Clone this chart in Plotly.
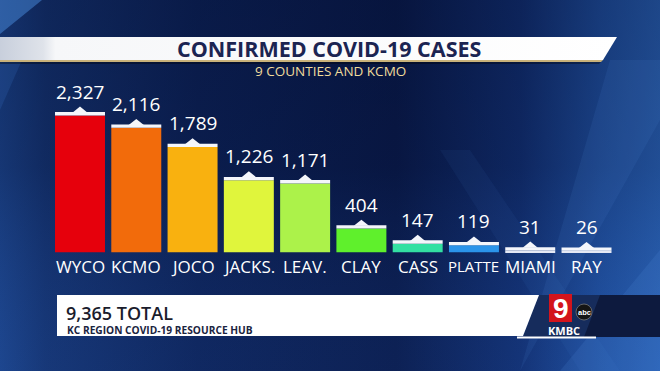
import plotly.graph_objects as go

# ---------------- data ----------------
categories = ["WYCO", "KCMO", "JOCO", "JACKS.", "LEAV.", "CLAY", "CASS", "PLATTE", "MIAMI", "RAY"]
cases = [2327, 2116, 1789, 1226, 1171, 404, 147, 119, 31, 26]
bar_colors = ["#e6000c", "#f26b0b", "#f9b10f", "#e0f53c", "#acf24a",
              "#5ff02c", "#33e0a2", "#2b94ea", "#e4e8f4", "#e4e8f4"]
title_text = "CONFIRMED COVID-19 CASES"
subtitle_text = "9 COUNTIES AND KCMO"
total_text = "9,365 TOTAL"
source_text = "KC REGION COVID-19 RESOURCE HUB"
station_text = "KMBC"

W, H = 660, 371
FONT = "Open Sans"

fig = go.Figure()


def poly(xs, ys, color=None, grad=None):
    fig.add_trace(go.Scatter(
        x=list(xs) + [xs[0]], y=list(ys) + [ys[0]], mode="lines",
        line=dict(width=0, color="rgba(0,0,0,0)"), fill="toself",
        fillcolor=color, fillgradient=grad, hoverinfo="skip",
        showlegend=False, xaxis="x", yaxis="y"))


# ---------------- background (pixel coordinates on base axes) ----------------
poly([0, W, W, 0], [0, 0, H, H], grad=dict(
    type="horizontal", start=0, stop=W,
    colorscale=[[0, "rgb(28,68,140)"], [0.07, "rgb(21,52,115)"], [0.3, "rgb(13,35,90)"],
                [0.6, "rgb(10,27,76)"], [0.79, "rgb(18,48,115)"], [0.91, "rgb(32,80,160)"],
                [1, "rgb(42,98,182)"]]))
poly([0, W, W, 0], [0, 0, H, H], grad=dict(
    type="vertical", start=0, stop=H,
    colorscale=[[0, "rgba(0,6,30,0.30)"], [0.45, "rgba(0,6,30,0.22)"],
                [1, "rgba(40,90,170,0.10)"]]))
# diagonal light streaks
poly([0, 42, 0], [0, 0, 34], color="rgba(80,150,235,0.45)")
poly([0, 22, 0], [60, 60, 110], color="rgba(60,120,210,0.18)")
poly([440, 470, 620, 580], [150, 150, H, H], color="rgba(90,150,230,0.06)")
poly([610, W, W, 520], [60, 60, 120, H], color="rgba(90,150,230,0.10)")
poly([560, W, W, 640], [H, 250, H, H], color="rgba(90,150,230,0.15)")

# ---------------- title banner ----------------
poly([0, 617, 603, 0], [37, 37, 60, 60], grad=dict(
    type="horizontal", start=0, stop=617,
    colorscale=[[0, "#c8cfdc"], [0.07, "#dfe3ea"], [0.09, "#f6f7f9"], [1, "#ffffff"]]))
poly([0, 603, 601, 0], [60, 60, 62, 62], color="#c9b27a")
poly([0, 601, 599, 0], [62, 62, 64, 64], color="rgba(0,0,0,0.35)")

# ---------------- bottom banner ----------------
poly([523, W, W, 523 + 16], [337, 337, 295, 295], color="#0d1a3e")
poly([539, 600, 584, 523], [295, 295, 337, 337], color="rgba(40,80,150,0.35)")
poly([57, 539, 523, 57], [295, 295, 336, 336], color="#ffffff")
poly([517, 596, 596, 517], [336.5, 336.5, 338.5, 338.5], color="#ffffff")
# logo
poly([549, 572, 572, 549], [294, 294, 322, 322], color="#d3141c")
fig.add_shape(type="circle", xref="x", yref="y", x0=576, x1=592, y0=304, y1=320,
              fillcolor="#151515", line=dict(color="#777777", width=0.8), layer="above")

# ---------------- bars (overlay axes in data units) ----------------
n = len(categories)
xi = list(range(n))
cap = 56          # white cap thickness in data units
peak = 95         # triangle peak height in data units
half = 0.135      # triangle half width in category units

fig.add_trace(go.Bar(x=xi, y=cases, width=0.888, marker=dict(color=bar_colors, line=dict(width=0)),
                     xaxis="x2", yaxis="y2", showlegend=False, hoverinfo="skip"))
fig.add_trace(go.Bar(x=xi, y=[cap] * n, base=cases, width=0.888,
                     marker=dict(color="#f4f6fb", line=dict(width=0)),
                     xaxis="x2", yaxis="y2", showlegend=False, hoverinfo="skip"))
tx, ty = [], []
for i, v in zip(xi, cases):
    top = v + cap
    tx += [i - half, i, i + half, None]
    ty += [top - 10, top + peak, top - 10, None]
fig.add_trace(go.Scatter(x=tx, y=ty, mode="lines", fill="toself", fillcolor="#f4f6fb",
                         line=dict(width=0, color="rgba(0,0,0,0)"),
                         xaxis="x2", yaxis="y2", showlegend=False, hoverinfo="skip"))

annotations = []
for i, (c, v) in enumerate(zip(categories, cases)):
    annotations.append(dict(xref="x2", yref="y2", x=i, y=v + cap + peak, text=f"{v:,}",
                            showarrow=False, yanchor="bottom", yshift=0,
                            font=dict(family=FONT, size=19, color="#ffffff", weight=500)))
    annotations.append(dict(xref="x2", yref="y2", x=i, y=0, text=c, showarrow=False,
                            yanchor="middle", yshift=-14,
                            font=dict(family=FONT, size=15 if c == "PLATTE" else 17,
                                      color="#ffffff", weight=500)))

annotations += [
    dict(xref="x", yref="y", x=329, y=48.5, text=title_text, showarrow=False,
         font=dict(family=FONT, size=21.5, color="#1b2452", weight="bold")),
    dict(xref="x", yref="y", x=330, y=71, text=subtitle_text, showarrow=False,
         font=dict(family=FONT, size=13.5, color="#f0dc9c", weight=500)),
    dict(xref="x", yref="y", x=64, y=313, text=total_text, showarrow=False, xanchor="left",
         font=dict(family=FONT, size=18, color="#1a1c2c", weight=600)),
    dict(xref="x", yref="y", x=65, y=330, text=source_text, showarrow=False, xanchor="left",
         font=dict(family=FONT, size=10.2, color="#1a2440", weight="bold")),
    dict(xref="x", yref="y", x=560.5, y=308, text="9", showarrow=False,
         font=dict(family="Liberation Sans", size=28, color="#ffffff", weight="bold")),
    dict(xref="x", yref="y", x=584, y=312, text="abc", showarrow=False,
         font=dict(family="Liberation Sans", size=7.5, color="#ffffff", weight="bold")),
    dict(xref="x", yref="y", x=564, y=330, text=station_text, showarrow=False,
         font=dict(family=FONT, size=11, color="#ffffff", weight="bold")),
]

# axis ranges: bar base at pixel 252.3, 17 data units per pixel
k = 17.0
base_px = 252.3
x_left = -80 / 56.28
x_right = (W - 80) / 56.28

fig.update_layout(
    width=W, height=H, autosize=False,
    margin=dict(l=0, r=0, t=0, b=0, pad=0),
    paper_bgcolor="#0b1c4c", plot_bgcolor="#0b1c4c",
    barmode="overlay", showlegend=False,
    xaxis=dict(range=[0, W], visible=False, fixedrange=True),
    yaxis=dict(range=[H, 0], visible=False, fixedrange=True),
    xaxis2=dict(range=[x_left, x_right], overlaying="x", visible=False, fixedrange=True),
    yaxis2=dict(range=[(base_px - H) * k, base_px * k], overlaying="y", visible=False,
                fixedrange=True),
    annotations=annotations,
)

fig.write_html("out.html")
